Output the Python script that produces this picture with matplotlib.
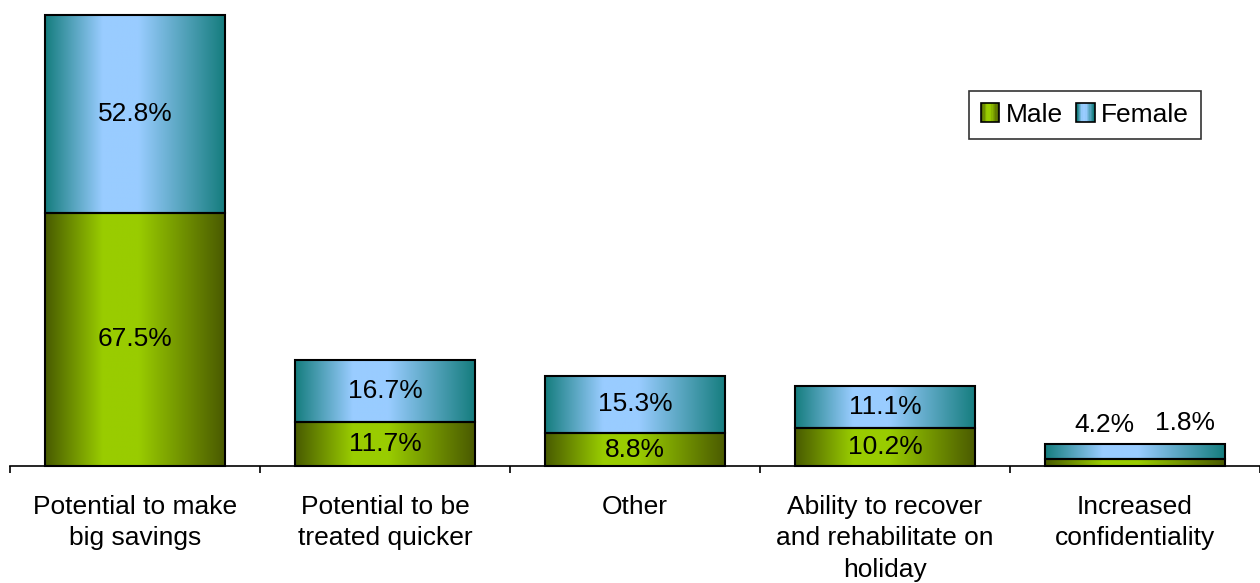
import numpy as np
import matplotlib
matplotlib.use('Agg')
import matplotlib.pyplot as plt
from matplotlib.colors import LinearSegmentedColormap
from matplotlib.patches import Rectangle
from matplotlib.legend_handler import HandlerBase

plt.rcParams['font.family'] = ['Liberation Sans', 'DejaVu Sans']

# ── data ────────────────────────────────────────────────
categories = ['Potential to make\nbig savings',
              'Potential to be\ntreated quicker',
              'Other',
              'Ability to recover\nand rehabilitate on\nholiday',
              'Increased\nconfidentiality']
male = [67.5, 11.7, 8.8, 10.2, 1.8]
female = [52.8, 16.7, 15.3, 11.1, 4.2]
series_names = ['Male', 'Female']

# ── styling ─────────────────────────────────────────────
GREEN = ['#485a00', '#99cc00', '#99cc00', '#4a5a00']
BLUE = ['#157d7e', '#99ccff', '#99ccff', '#157d7e']
STOPS = [0.0, 0.32, 0.52, 1.0]
FS = 19


def ramp(colors, n=256):
    cm = LinearSegmentedColormap.from_list('grad', list(zip(STOPS, colors)))
    return cm(np.linspace(0, 1, n))


class GradHandler(HandlerBase):
    def __init__(self, colors):
        super().__init__()
        self.colors = colors

    def create_artists(self, legend, orig_handle, xdescent, ydescent,
                       width, height, fontsize, trans):
        n = 14
        cols = ramp(self.colors, n)
        arts = []
        for i in range(n):
            arts.append(Rectangle((-xdescent + i * width / n, -ydescent),
                                  width / n, height, facecolor=cols[i],
                                  edgecolor='none', transform=trans))
        arts.append(Rectangle((-xdescent, -ydescent), width, height,
                              fill=False, edgecolor='black', lw=1.2,
                              transform=trans))
        return arts


fig = plt.figure(figsize=(12.6, 5.83), dpi=100)
ax = fig.add_axes([10 / 1260, 117 / 583, 1250 / 1260, 451 / 583])

x = np.arange(len(categories))
width = 0.72
tops = np.array(male) + np.array(female)

bars_m = ax.bar(x, male, width, facecolor='none', edgecolor='black',
                lw=1.5, zorder=3, clip_on=False)
bars_f = ax.bar(x, female, width, bottom=male, facecolor='none',
                edgecolor='black', lw=1.5, zorder=3, clip_on=False)

for bars, cols in ((bars_m, GREEN), (bars_f, BLUE)):
    img = ramp(cols)[None, :, :]
    for b in bars:
        x0, y0 = b.get_xy()
        ax.imshow(img, extent=(x0, x0 + b.get_width(), y0, y0 + b.get_height()),
                  aspect='auto', interpolation='bilinear', zorder=2)

# value labels
for i in range(len(categories)):
    if i == len(categories) - 1:
        ax.annotate(f'{female[i]}%', (x[i], tops[i]), xytext=(-22, 13),
                    textcoords='offset points', ha='center', va='center',
                    fontsize=FS)
        ax.annotate(f'{male[i]}%', (x[i], tops[i]), xytext=(36, 15),
                    textcoords='offset points', ha='center', va='center',
                    fontsize=FS)
        continue
    ax.text(x[i], male[i] / 2, f'{male[i]}%', ha='center', va='center',
            fontsize=FS, zorder=4)
    ax.text(x[i], male[i] + female[i] / 2, f'{female[i]}%', ha='center',
            va='center', fontsize=FS, zorder=4)

ax.set_xlim(-0.5, len(categories) - 0.5)
ax.set_ylim(0, tops.max())
ax.set_xticks(x)
ax.set_xticklabels(categories, fontsize=FS, linespacing=1.38)
ax.set_xticks(np.arange(len(categories) + 1) - 0.5, minor=True)
ax.tick_params(axis='x', which='major', length=0, pad=21)
ax.tick_params(axis='x', which='minor', length=5, width=1.2, direction='out')
ax.set_yticks([])
for s in ('left', 'right', 'top'):
    ax.spines[s].set_visible(False)
ax.spines['bottom'].set_linewidth(1.2)
ax.patch.set_visible(False)

h1 = Rectangle((0, 0), 1, 1)
h2 = Rectangle((0, 0), 1, 1)
leg = ax.legend([h1, h2], series_names, ncol=2, fontsize=19,
                handler_map={h1: GradHandler(GREEN), h2: GradHandler(BLUE)},
                loc='upper right', bbox_to_anchor=(1201 / 1260, 1 - 91 / 583),
                bbox_transform=fig.transFigure, borderaxespad=0,
                fancybox=False, frameon=True, edgecolor='black',
                handlelength=0.7, handleheight=0.7, handletextpad=0.25,
                columnspacing=0.5, borderpad=0.45)
leg.get_frame().set_linewidth(1.2)

fig.savefig('out.png', dpi=100)
